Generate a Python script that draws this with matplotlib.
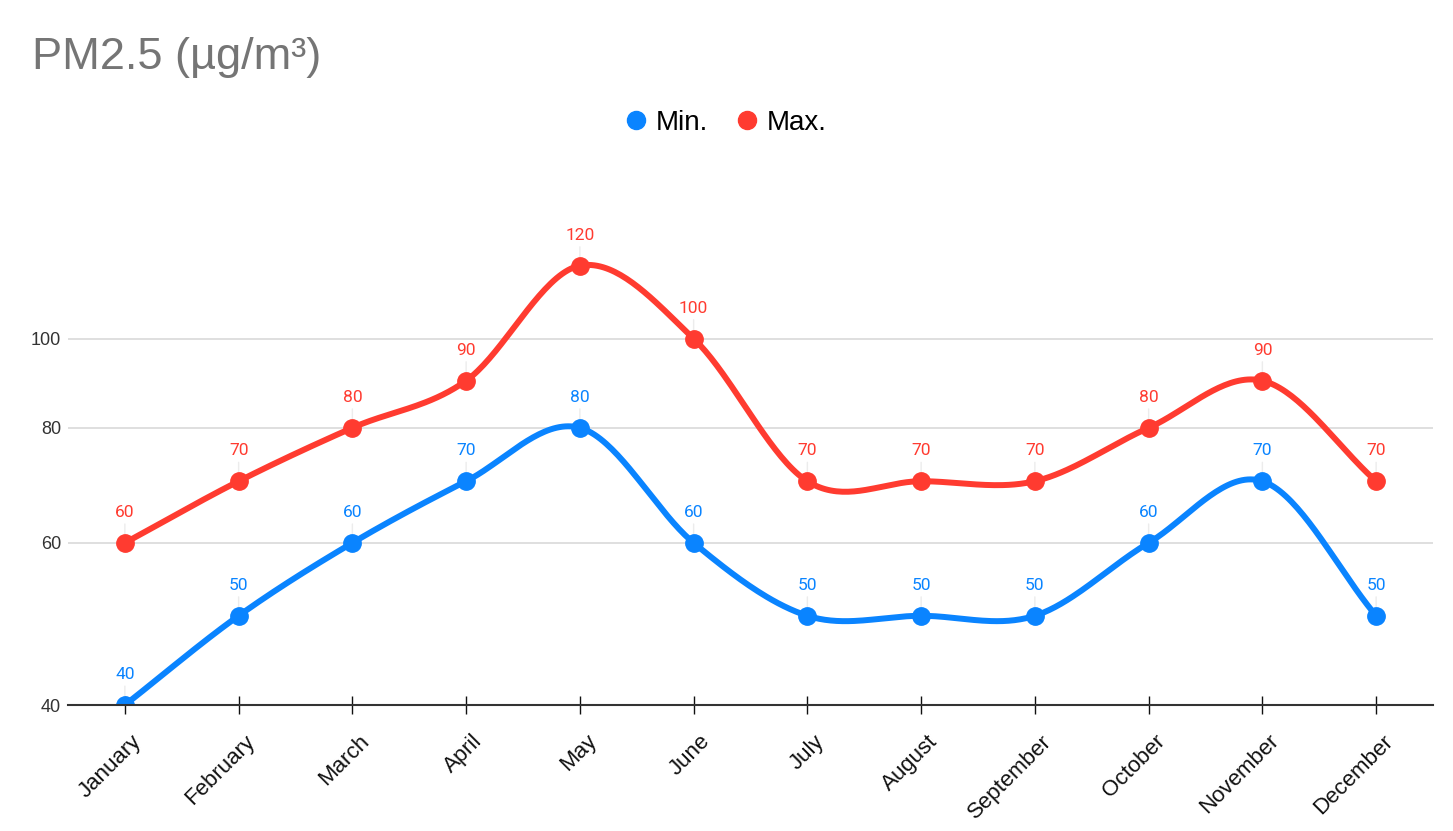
import numpy as np
import matplotlib.pyplot as plt
from matplotlib.lines import Line2D
from matplotlib.ticker import NullLocator
import matplotlib.transforms as mtransforms

months = ["January", "February", "March", "April", "May", "June",
          "July", "August", "September", "October", "November", "December"]
pm_min = [40, 50, 60, 70, 80, 60, 50, 50, 50, 60, 70, 50]
pm_max = [60, 70, 80, 90, 120, 100, 70, 70, 70, 80, 90, 70]
y_ticks = [40, 60, 80, 100]

blue = "#0A84FF"
red = "#FF3B30"

plt.rcParams['font.family'] = ['Liberation Sans', 'DejaVu Sans']

'''smooth curve through the points (catmull-rom in log space, cubic bezier pieces)'''
def smooth(vals, n=40):
    L = np.log(np.array(vals, dtype=float))
    k = len(L)
    m = np.zeros(k)
    for i in range(k):
        if i == 0:
            m[i] = L[1] - L[0]
        elif i == k - 1:
            m[i] = L[-1] - L[-2]
        else:
            m[i] = (L[i + 1] - L[i - 1]) / 2.0
    xs, ys = [], []
    t = np.linspace(0, 1, n)
    for i in range(k - 1):
        p0 = np.array([i, L[i]])
        p3 = np.array([i + 1, L[i + 1]])
        p1 = p0 + np.array([1 / 3.0, m[i] / 3.0])
        p2 = p3 - np.array([1 / 3.0, m[i + 1] / 3.0])
        b = ((1 - t) ** 3)[:, None] * p0 + (3 * (1 - t) ** 2 * t)[:, None] * p1 \
            + (3 * (1 - t) * t ** 2)[:, None] * p2 + (t ** 3)[:, None] * p3
        xs.extend(b[:, 0])
        ys.extend(b[:, 1])
    return np.array(xs), np.exp(np.array(ys))

fig = plt.figure(figsize=(14.53, 8.31), dpi=100)
W, H = 1453.0, 831.0
ax = fig.add_axes([68 / W, 1 - 705 / H, (1433 - 68) / W, (705 - 190) / H])

x = np.arange(len(months))
for vals, col in [(pm_min, blue), (pm_max, red)]:
    sx, sy = smooth(vals)
    ax.plot(sx, sy, color=col, lw=4.3, solid_capstyle='round', zorder=3)
    ax.plot(x, vals, 'o', color=col, markersize=12.5, zorder=4)
    for xi, v in zip(x, vals):
        ax.annotate(str(v), xy=(xi, v), xytext=(0, 22), textcoords='offset points',
                    ha='center', va='center', color=col, fontsize=12.5,
                    family=['Roboto', 'DejaVu Sans'], zorder=1,
                    arrowprops=dict(arrowstyle='-', color='#ececec', lw=1,
                                    shrinkA=1, shrinkB=0))

ax.set_yscale('log')
ax.set_ylim(40, 145)
ax.set_xlim(-0.5, 11.5)
ax.set_yticks(y_ticks)
ax.set_yticklabels([str(v) for v in y_ticks])
ax.yaxis.set_minor_locator(NullLocator())
ax.tick_params(axis='y', length=0, pad=5, labelsize=13, labelcolor='#333333')
ax.grid(axis='y', color='#d9d9d9', lw=1.2)
ax.set_axisbelow(True)

ax.set_xticks(x)
ax.set_xticklabels(months, rotation=45, ha='right', va='top', rotation_mode='anchor')
ax.tick_params(axis='x', direction='inout', length=13, width=1, color='#111111',
               pad=12, labelsize=16, labelcolor='#111111')
offset = mtransforms.ScaledTranslation(6 / 100.0, 0, fig.dpi_scale_trans)
for lab in ax.get_xticklabels():
    lab.set_transform(lab.get_transform() + offset)

for s in ['top', 'right', 'left']:
    ax.spines[s].set_visible(False)
ax.spines['bottom'].set_color('#333333')
ax.spines['bottom'].set_linewidth(1.5)
ax.spines['bottom'].set_zorder(5)

fig.text(32 / W, 1 - 69 / H, "PM2.5 (µg/m³)", fontsize=32.5, color='#757575', va='baseline')

handles = [Line2D([], [], marker='o', ls='none', color=blue, markersize=13),
           Line2D([], [], marker='o', ls='none', color=red, markersize=13)]
fig.legend(handles, ["Min.", "Max."], loc='center', bbox_to_anchor=(0.4975, 1 - 123 / H),
           ncol=2, frameon=False, fontsize=20, handletextpad=0.1, columnspacing=0.8,
           handlelength=1.2)

plt.savefig("out.png", dpi=100)
